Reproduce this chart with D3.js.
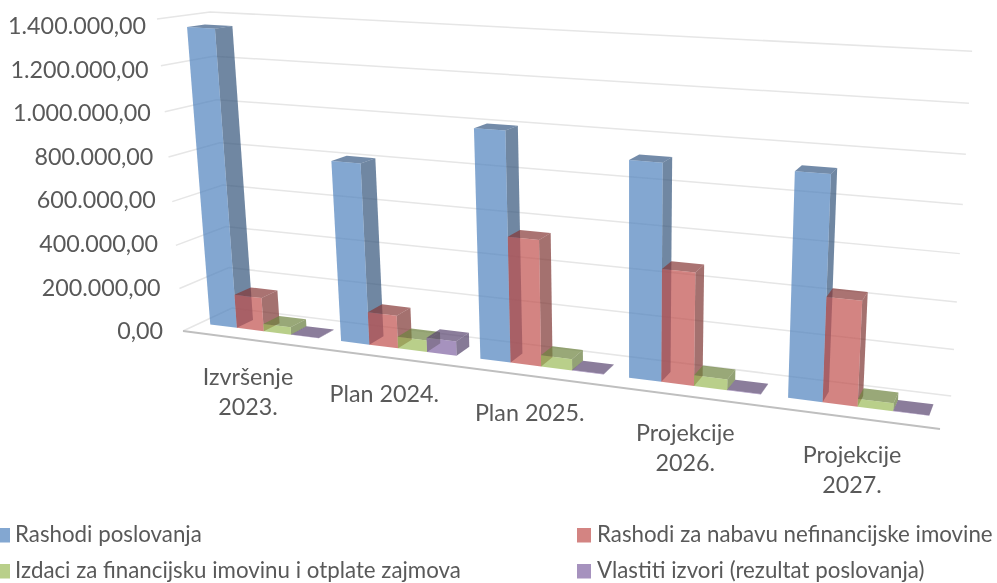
<!DOCTYPE html>
<html>
<head>
<meta charset="utf-8">
<script src="https://cdn.jsdelivr.net/npm/d3@7"></script>
<style>
  html, body { margin: 0; padding: 0; background: #fff; }
  text { font-family: Lato, "Open Sans", sans-serif; fill: #595959; }
  svg { filter: blur(0.4px); }
</style>
</head>
<body>
<div id="chart"></div>
<script>
const categories = [["Izvršenje", "2023."], ["Plan 2024."], ["Plan 2025."], ["Projekcije", "2026."], ["Projekcije", "2027."]];
const seriesNames = ["Rashodi poslovanja", "Rashodi za nabavu nefinancijske imovine", "Izdaci za financijsku imovinu i otplate zajmova", "Vlastiti izvori (rezultat poslovanja)"];
const seriesColors = ["#4F81BD", "#C0504D", "#9BBB59", "#8064A2"];
const rashodiPoslovanja = [1357000, 816000, 1006000, 924000, 932000];
const rashodiImovine = [157000, 150000, 556000, 485000, 440000];
const izdaci = [35000, 53000, 50000, 46000, 33000];
const vlastitiIzvori = [1500, 65000, 1500, 1500, 1500];
const seriesValues = [rashodiPoslovanja, rashodiImovine, izdaci, vlastitiIzvori];
const yTicks = [0, 200000, 400000, 600000, 800000, 1000000, 1200000, 1400000];

const width = 997, height = 583;
const svg = d3.select("#chart").append("svg")
  .attr("width", width)
  .attr("height", height)
  .style("display", "block");

// perspective box: corners of the plot on screen plus the weight of each axis
const O = [183, 331], A = [940, 429], B = [232, 308], C = [157, 19];
const wA = 0.845, wB = 1.055, wC = 0.945;

function project(u, v, h) {
  const d = 1 + u * (wA - 1) + v * (wB - 1) + h * (wC - 1);
  return [0, 1].map(i =>
    (O[i] + u * (wA * A[i] - O[i]) + v * (wB * B[i] - O[i]) + h * (wC * C[i] - O[i])) / d);
}

const y = d3.scaleLinear().domain([0, 1400000]).range([0, 1]);
const x0 = d3.scaleBand().domain(d3.range(categories.length)).range([0, 1]);
const x1 = d3.scaleBand().domain(d3.range(seriesNames.length)).range([0, x0.bandwidth()]).paddingOuter(0.4);
const barFront = 0.33, barBack = 0.67;

const fmt = d3.formatLocale({ decimal: ",", thousands: ".", grouping: [3], currency: ["", ""] }).format(",.2f");
const line = d3.line();

// walls
const gridColor = "#e6e6e6";
svg.append("g").selectAll("path")
  .data(yTicks)
  .enter()
  .append("path")
  .attr("d", d => line([project(0, 0, y(d)), project(0, 1, y(d)), project(1, 1, y(d))]))
  .attr("fill", "none")
  .attr("stroke", gridColor)
  .attr("stroke-width", 1.5);

// floor front edge
svg.append("path")
  .attr("d", line([project(0, 0, 0), project(1, 0, 0)]))
  .attr("stroke", "#bfbfbf")
  .attr("stroke-width", 2);

// bars
const bars = [];
seriesValues.forEach((vals, s) => {
  vals.forEach((val, c) => {
    bars.push({ s: s, c: c, val: val });
  });
});

function faces(d) {
  const u0 = x0(d.c) + x1(d.s), u1 = u0 + x1.bandwidth(), h = y(d.val);
  const p = (u, v, z) => project(u, v, z);
  return [
    { shade: 1.2, pts: [p(u1, barFront, 0), p(u1, barBack, 0), p(u1, barBack, h), p(u1, barFront, h)] },
    { shade: 1, pts: [p(u0, barFront, h), p(u1, barFront, h), p(u1, barBack, h), p(u0, barBack, h)] },
    { shade: 0, pts: [p(u0, barFront, 0), p(u1, barFront, 0), p(u1, barFront, h), p(u0, barFront, h)] }
  ];
}

const barG = svg.selectAll("g.bar")
  .data(bars)
  .enter()
  .append("g")
  .attr("class", "bar");

barG.selectAll("path")
  .data(d => faces(d).map(f => ({ ...f, color: seriesColors[d.s] })))
  .enter()
  .append("path")
  .attr("d", d => line(d.pts) + "Z")
  .attr("fill", d => d3.rgb(d.color).darker(d.shade))
  .attr("fill-opacity", 0.7);

// value axis labels
const tickX = d3.scaleLinear().domain([0, 1400000]).range([163, 146]);
const tickY = d3.scaleLinear().domain([0, 1400000]).range([331, 26]);
svg.selectAll("text.ytick")
  .data(yTicks)
  .enter()
  .append("text")
  .attr("class", "ytick")
  .attr("x", d => tickX(d))
  .attr("y", d => tickY(d))
  .attr("dy", "0.35em")
  .attr("text-anchor", "end")
  .attr("font-size", "23.3px")
  .text(d => fmt(d));

// category labels
svg.selectAll("text.cat")
  .data(categories)
  .enter()
  .append("text")
  .attr("class", "cat")
  .attr("text-anchor", "middle")
  .attr("font-size", "23.3px")
  .attr("transform", (d, i) => {
    const p = project(x0(i) + x0.bandwidth() / 2, 0, 0);
    return `translate(${p[0]}, ${p[1] + 37})`;
  })
  .selectAll("tspan")
  .data(d => d)
  .enter()
  .append("tspan")
  .attr("x", 0)
  .attr("y", (d, i) => i * 30)
  .attr("dy", "0.35em")
  .text(d => d);

// legend
const legendX = [0, 577];
const legendY = [535.5, 571.5];
const legend = svg.selectAll("g.legend")
  .data(seriesNames)
  .enter()
  .append("g")
  .attr("class", "legend")
  .attr("transform", (d, i) => `translate(${legendX[i % 2]}, ${legendY[Math.floor(i / 2)]})`);

legend.append("rect")
  .attr("x", (d, i) => i % 2 ? 0 : -4)
  .attr("y", -7.5)
  .attr("width", 14)
  .attr("height", 14.5)
  .attr("fill", (d, i) => seriesColors[i])
  .attr("fill-opacity", 0.7);

legend.append("text")
  .attr("x", (d, i) => i % 2 ? 20 : 15)
  .attr("y", 6)
  .attr("font-size", "22.3px")
  .text(d => d);
</script>
</body>
</html>
